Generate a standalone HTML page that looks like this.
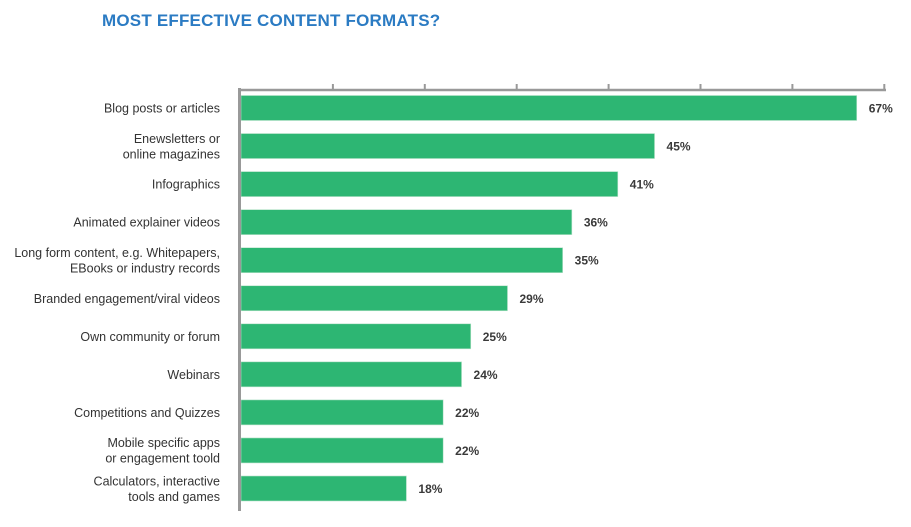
<!DOCTYPE html>
<html><head><meta charset="utf-8"><style>
body{margin:0;background:#fff;width:911px;height:527px;overflow:hidden;font-family:"Liberation Sans",sans-serif}
#t{position:absolute;left:102px;top:11px;font-size:17px;font-weight:bold;color:#2b7bc3;letter-spacing:0.2px;margin:0}
</style></head><body>
<h1 id="t">MOST EFFECTIVE CONTENT FORMATS?</h1>
<svg id="c" width="911" height="527" style="position:absolute;left:0;top:0"></svg>
<script>
const categories=[["Blog posts or articles"],["Enewsletters or","online magazines"],["Infographics"],["Animated explainer videos"],["Long form content, e.g. Whitepapers,","EBooks or industry records"],["Branded engagement/viral videos"],["Own community or forum"],["Webinars"],["Competitions and Quizzes"],["Mobile specific apps","or engagement toold"],["Calculators, interactive","tools and games"]];
const values=[67,45,41,36,35,29,25,24,22,22,18];
const valueLabels=["67%","45%","41%","36%","35%","29%","25%","24%","22%","22%","18%"];
const ticks=[10,20,30,40,50,60,70];
const svg=document.getElementById('c'),NS="http://www.w3.org/2000/svg";
const x=v=>241+v*9.19, y=i=>108+i*38.05;
function mk(t,a,p){const e=document.createElementNS(NS,t);for(const k in a)e.setAttribute(k,a[k]);(p||svg).appendChild(e);return e;}
values.forEach((v,i)=>{
 const r=mk('rect',{x:241,y:y(i)-12.5,width:x(v)-241,height:25,fill:'#2db673',stroke:'#b9e3cb','stroke-width':0.6});
 
 
 const vl=mk('text',{x:x(v)+12,y:y(i)+4.5,'font-size':12,'font-weight':'bold',fill:'#3a3a3a'});
 vl.textContent=valueLabels[i];
 
 
 const lines=categories[i];
 const cl=mk('text',{'text-anchor':'end','font-size':12.5,fill:'#333'});
 
 
 lines.forEach((s,j)=>{const ts=mk('tspan',{x:220,y:y(i)+4.5+(j-(lines.length-1)/2)*15.5},cl);ts.textContent=s;});
});
const ax=mk('line',{x1:239.5,y1:88,x2:239.5,y2:511,stroke:'#999','stroke-width':3});


const tx=mk('line',{x1:238,y1:90,x2:886,y2:90,stroke:'#999','stroke-width':2.5});


ticks.forEach(t=>{const l=mk('line',{x1:x(t),y1:84,x2:x(t),y2:90,stroke:'#999','stroke-width':2});
 
 });
</script>
</body></html>
